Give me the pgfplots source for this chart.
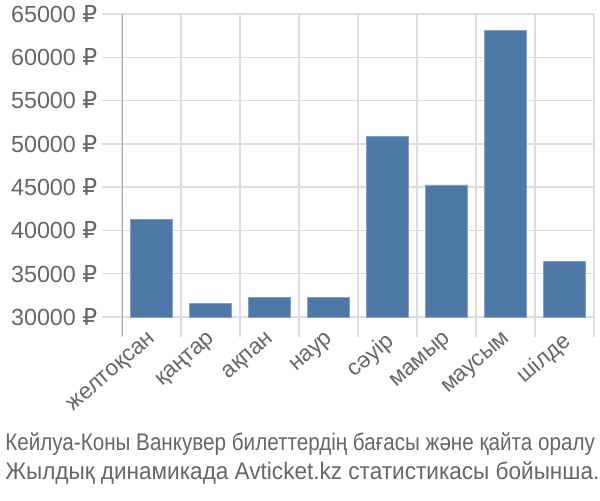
\documentclass[border=0pt]{standalone}
\usepackage{pgfplots}
\pgfplotsset{compat=1.18}
\usepackage{fontspec}
\setmainfont{Liberation Sans}
\newfontfamily\rubfont{DejaVu Sans}
\newcommand{\rub}{{\rubfont ₽}}
\definecolor{barc}{RGB}{78,121,167}
\definecolor{gridc}{RGB}{221,221,221}
\definecolor{axc}{RGB}{170,170,170}
\definecolor{txt}{RGB}{102,102,102}
\begin{document}
\begin{tikzpicture}
\useasboundingbox (0,0) rectangle (450pt,375pt);
\begin{axis}[
  at={(91.5pt,137.25pt)}, anchor=south west,
  scale only axis, width=354pt, height=227.25pt,
  xmin=-0.5, xmax=7.5, ymin=30000, ymax=65000,
  axis lines=left,
  x axis line style={draw=none},
  y axis line style={draw=axc, -, shorten <=-14pt},
  tick align=outside,
  major tick length=15pt,
  every tick/.style={gridc, line width=1pt},
  grid=major,
  grid style={gridc, line width=1pt},
  scaled y ticks=false,
  xtick={-0.5,0.5,...,7.5},
  xticklabels={},
  extra x ticks={0,1,2,3,4,5,6,7},
  extra x tick labels={желтоқсан,қаңтар,ақпан,наур,сәуір,мамыр,маусым,шілде},
  extra x tick style={major tick length=0pt, grid=none,
     tick label style={yshift=-10pt, xshift=-2.5pt, rotate=41, anchor=north east, inner sep=0pt, font=\fontsize{17pt}{18pt}\selectfont}},
  ytick={30000,35000,...,65000},
  yticklabels={30000 \rub,35000 \rub,40000 \rub,45000 \rub,50000 \rub,55000 \rub,60000 \rub,65000 \rub},
  tick label style={font=\fontsize{17.5pt}{19pt}\selectfont, text=txt},
  /pgf/number format/assume math mode=true,
  ymajorgrids, xmajorgrids,
  clip=false,
]
\addplot[ybar, bar width=31.5pt, fill=barc, draw=barc!70!white, line width=0.6pt, bar shift=0pt] coordinates {
(0,41300) (1,31580) (2,32300) (3,32300) (4,50900) (5,45250) (6,63150) (7,36400)};
\end{axis}
\node[anchor=base west, inner sep=0, text=txt, font=\fontsize{18pt}{21pt}\selectfont\addfontfeature{FakeStretch=0.86}] at (3.75pt,36.75pt) {Кейлуа-Коны Ванкувер билеттердің бағасы және қайта оралу};
\node[anchor=base west, inner sep=0, text=txt, font=\fontsize{18pt}{21pt}\selectfont\addfontfeature{FakeStretch=0.94}] at (3.75pt,15.75pt) {Жылдық динамикада Avticket.kz статистикасы бойынша.};
\end{tikzpicture}
\end{document}
